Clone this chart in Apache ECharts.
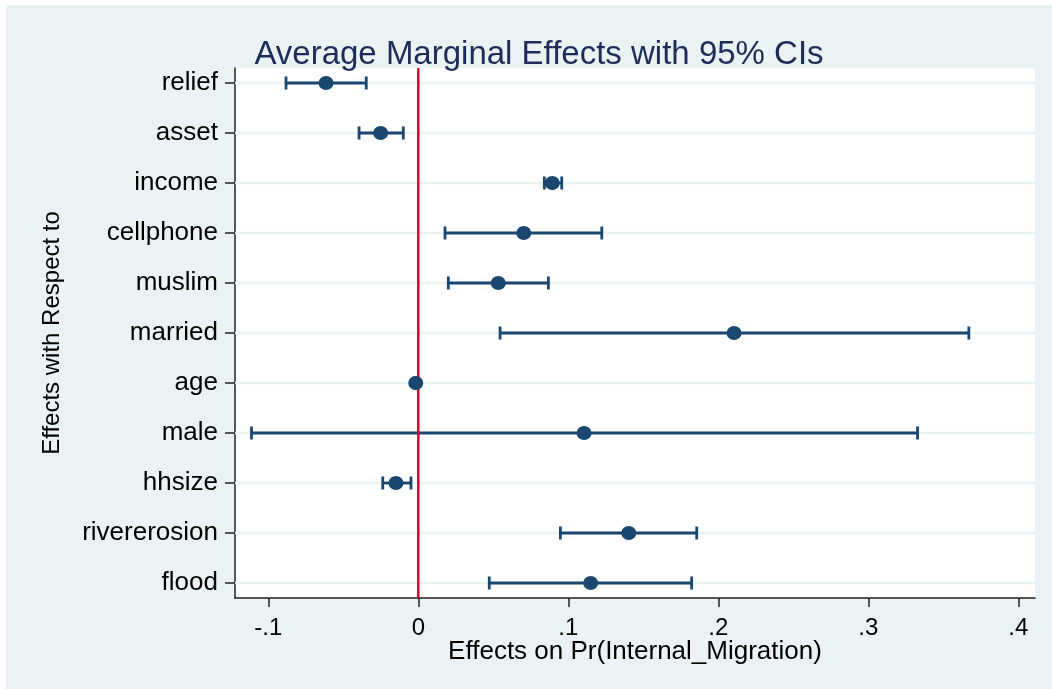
<!DOCTYPE html>
<html>
<head>
<meta charset="utf-8">
<title>Average Marginal Effects with 95% CIs</title>
<script src="https://cdn.jsdelivr.net/npm/echarts@6/dist/echarts.min.js"></script>
<style>
  html, body { margin: 0; padding: 0; background: #ffffff; }
  #frame { position: absolute; left: 6px; top: 5px; width: 1046px; height: 684px; background: #eaf2f3; }
  #chart { position: absolute; left: 0; top: 0; width: 1052px; height: 689px; }
</style>
</head>
<body>
<div id="frame"></div>
<div id="chart"></div>
<script>
// Covariates, listed top to bottom
const categories = ['relief', 'asset', 'income', 'cellphone', 'muslim', 'married',
                    'age', 'male', 'hhsize', 'rivererosion', 'flood'];
// Average marginal effects and 95% confidence bounds
const estimates = [-0.0615, -0.0251, 0.0893, 0.0703, 0.0533, 0.2105, -0.0017, 0.1105, -0.0149, 0.1403, 0.1149];
const ciLow     = [-0.0882, -0.0395, 0.0840, 0.0178, 0.0200, 0.0545, -0.0027, -0.1112, -0.0237, 0.0947, 0.0473];
const ciHigh    = [-0.0347, -0.0100, 0.0956, 0.1223, 0.0867, 0.3670, -0.0007, 0.3328, -0.0049, 0.1856, 0.1822];
// x-axis ticks
const xTicks = [-0.1, 0, 0.1, 0.2, 0.3, 0.4];

const navy = '#1a476f';
const n = categories.length;
const pos = i => n - 1 - i;            // first category at the top
const yTicks = categories.map((c, i) => pos(i));

function fmtX(v) {
  const r = Math.round(v * 10) / 10;
  if (r === 0) return '0';
  return (r < 0 ? '-' : '') + String(Math.abs(r)).replace(/^0/, '');
}

const chart = echarts.init(document.getElementById('chart'), null, { renderer: 'canvas' });

chart.setOption({
  backgroundColor: 'transparent',
  animation: false,
  textStyle: { fontFamily: 'Liberation Sans, Arial, sans-serif' },
  title: {
    text: 'Average Marginal Effects with 95% CIs',
    left: 534, top: 33, textAlign: 'center',
    textStyle: { fontSize: 33, fontWeight: 'normal', color: '#1c2d59', fontFamily: 'Liberation Sans, Arial, sans-serif' }
  },
  grid: {
    left: 235, top: 68, right: 17, bottom: 91,
    show: true, backgroundColor: '#ffffff', borderWidth: 0
  },
  xAxis: {
    type: 'value', min: -0.1222, max: 0.4111,
    name: 'Effects on Pr(Internal_Migration)',
    nameLocation: 'middle', nameGap: 41, nameMoveOverlap: false,
    nameTextStyle: { fontSize: 26, color: '#000' },
    axisLine: { show: true, onZero: false, lineStyle: { color: '#222', width: 1.5 } },
    axisTick: { show: true, length: 9, lineStyle: { color: '#222', width: 1.5 }, customValues: xTicks },
    axisLabel: { fontSize: 24, color: '#000', margin: 18, customValues: xTicks, formatter: fmtX },
    splitLine: { show: false }
  },
  yAxis: {
    type: 'value', min: -0.3, max: n - 1 + 0.3,
    name: 'Effects with Respect to',
    nameLocation: 'middle', nameGap: 171, nameRotate: 90,
    nameTextStyle: { fontSize: 24, color: '#000' },
    axisLine: { show: true, onZero: false, lineStyle: { color: '#222', width: 1.5 } },
    axisTick: { show: true, length: 10, lineStyle: { color: '#222', width: 1.5 }, customValues: yTicks },
    axisLabel: {
      fontSize: 26, color: '#000', margin: 17, customValues: yTicks,
      formatter: v => categories[n - 1 - Math.round(v)]
    },
    splitLine: { show: false }
  },
  series: [
    {
      // horizontal guide lines at each covariate
      type: 'custom', z: 1, silent: true,
      data: yTicks.map(p => [p]),
      encode: { y: 0 },
      renderItem(params, api) {
        const cs = params.coordSys;
        const y = api.coord([0, api.value(0)])[1];
        return { type: 'line', shape: { x1: cs.x, y1: y, x2: cs.x + cs.width, y2: y },
                 style: { stroke: '#eaf2f3', lineWidth: 2.5 } };
      }
    },
    {
      // confidence intervals with end caps
      type: 'custom', z: 2, silent: true,
      data: categories.map((c, i) => [pos(i), ciLow[i], ciHigh[i]]),
      encode: { y: 0, x: [1, 2] },
      renderItem(params, api) {
        const y = api.value(0);
        const a = api.coord([api.value(1), y]);
        const b = api.coord([api.value(2), y]);
        const h = 6.5;
        const st = { stroke: navy, lineWidth: 2.8 };
        return { type: 'group', children: [
          { type: 'line', shape: { x1: a[0], y1: a[1], x2: b[0], y2: b[1] }, style: st },
          { type: 'line', shape: { x1: a[0], y1: a[1] - h, x2: a[0], y2: a[1] + h }, style: st },
          { type: 'line', shape: { x1: b[0], y1: b[1] - h, x2: b[0], y2: b[1] + h }, style: st }
        ] };
      }
    },
    {
      // reference line at zero effect
      type: 'custom', z: 3, silent: true,
      data: [[0]],
      encode: { x: 0 },
      renderItem(params, api) {
        const cs = params.coordSys;
        const x = api.coord([api.value(0), 0])[0];
        return { type: 'line', shape: { x1: x, y1: cs.y, x2: x, y2: cs.y + cs.height },
                 style: { stroke: '#cc0a32', lineWidth: 2.5 } };
      }
    },
    {
      // point estimates
      type: 'scatter', z: 4,
      symbol: 'circle', symbolSize: [15, 14],
      itemStyle: { color: navy, opacity: 1 },
      data: categories.map((c, i) => [estimates[i], pos(i)])
    }
  ]
});
</script>
</body>
</html>
